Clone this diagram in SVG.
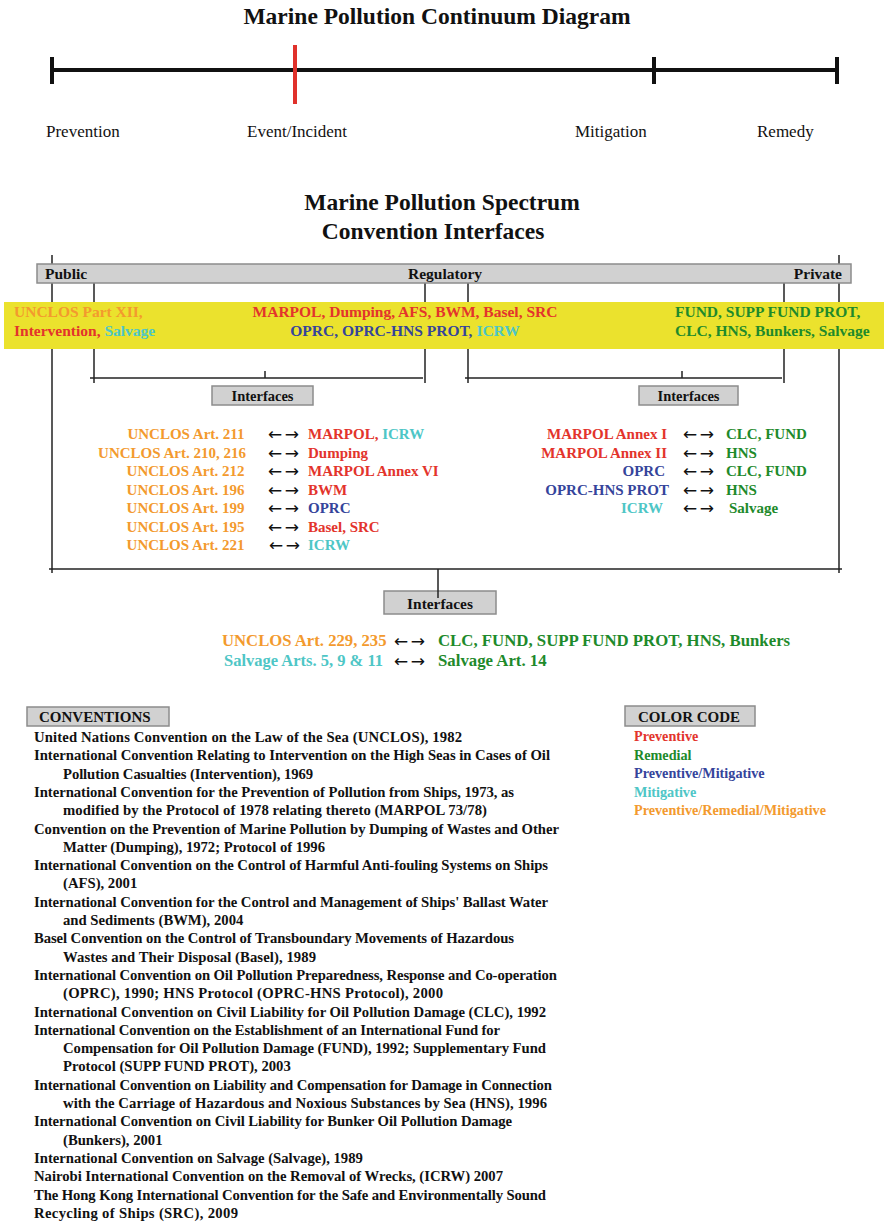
<svg xmlns="http://www.w3.org/2000/svg" width="884" height="1223" viewBox="0 0 884 1223">
<style>
text { font-family: "Liberation Serif", "Times New Roman", serif; font-weight: bold; fill: #111; }
.reg { font-weight: normal; }
.arr { font-family: "DejaVu Sans", sans-serif; font-weight: normal; font-size: 17px; word-spacing: -3px; fill: #111; }
.o { fill: #f39a2e; }
.r { fill: #e3342c; }
.g { fill: #1e8a2b; }
.b { fill: #35449b; }
.c { fill: #4ec6c6; }
.box { fill: #d1d1d1; stroke: #8c8c8c; stroke-width: 1.5; }
.ln { stroke: #222; stroke-width: 1.5; fill: none; }
.l15 { font-size: 15px; }
.lst { font-size: 14.7px; }
</style>

<g id="continuum">
  <text x="437" y="24" font-size="23.5" text-anchor="middle">Marine Pollution Continuum Diagram</text>
  <line x1="52" y1="70" x2="837" y2="70" stroke="#111" stroke-width="4"/>
  <line x1="52" y1="57" x2="52" y2="84" stroke="#111" stroke-width="4"/>
  <line x1="654" y1="57" x2="654" y2="84" stroke="#111" stroke-width="4"/>
  <line x1="837" y1="57" x2="837" y2="84" stroke="#111" stroke-width="4"/>
  <line x1="295" y1="45" x2="295" y2="104" stroke="#e0312b" stroke-width="4"/>
  <text class="reg" x="46" y="137" font-size="17">Prevention</text>
  <text class="reg" x="247" y="137" font-size="17">Event/Incident</text>
  <text class="reg" x="575" y="137" font-size="17">Mitigation</text>
  <text class="reg" x="757" y="137" font-size="17">Remedy</text>
</g>

<g id="spectrum-title">
  <text x="442" y="210" font-size="23.5" text-anchor="middle">Marine Pollution Spectrum</text>
  <text x="433" y="239" font-size="23.5" text-anchor="middle">Convention Interfaces</text>
</g>

<g id="connectors">
  <line class="ln" x1="52" y1="255" x2="52" y2="573"/>
  <line class="ln" x1="839" y1="255" x2="839" y2="573"/>
  <line class="ln" x1="49" y1="569" x2="842" y2="569"/>
  <line class="ln" x1="94" y1="283" x2="94" y2="383"/>
  <line class="ln" x1="425" y1="283" x2="425" y2="383"/>
  <line class="ln" x1="90" y1="378" x2="423" y2="378"/>
  <line class="ln" x1="265" y1="371" x2="265" y2="378"/>
  <line class="ln" x1="468" y1="283" x2="468" y2="383"/>
  <line class="ln" x1="784" y1="283" x2="784" y2="383"/>
  <line class="ln" x1="465" y1="378" x2="782" y2="378"/>
  <line class="ln" x1="682" y1="371" x2="682" y2="378"/>
</g>

<g id="spectrum-bar">
  <rect class="box" x="37" y="264" width="814" height="19"/>
  <text x="45" y="279" font-size="15.5">Public</text>
  <text x="445" y="279" font-size="15.5" text-anchor="middle">Regulatory</text>
  <text x="842" y="279" font-size="15.5" text-anchor="end">Private</text>
</g>

<g id="band">
  <rect x="4" y="302" width="880" height="47" fill="#ebe22d"/>
  <text x="14" y="317" font-size="15.5" class="o">UNCLOS Part XII,</text>
  <text x="14" y="336" font-size="15.5"><tspan class="r">Intervention,</tspan><tspan class="c"> Salvage</tspan></text>
  <text x="405" y="317" font-size="15.5" text-anchor="middle" class="r">MARPOL, Dumping, AFS, BWM, Basel, SRC</text>
  <text x="405" y="336" font-size="15.5" text-anchor="middle"><tspan class="b">OPRC, OPRC-HNS PROT,</tspan><tspan class="c"> ICRW</tspan></text>
  <text x="675" y="317" font-size="15.5" class="g">FUND, SUPP FUND PROT,</text>
  <text x="675" y="336" font-size="15.5" class="g">CLC, HNS, Bunkers, Salvage</text>
</g>

<g id="interfaces-left">
  <rect class="box" x="212" y="386" width="101" height="19"/>
  <text x="262.5" y="400.5" font-size="14.5" text-anchor="middle">Interfaces</text>
  <g class="l15">
    <text x="244.5" y="439" text-anchor="end" class="o">UNCLOS Art. 211</text>
    <text x="246" y="457.5" text-anchor="end" class="o">UNCLOS Art. 210, 216</text>
    <text x="244.5" y="476" text-anchor="end" class="o">UNCLOS Art. 212</text>
    <text x="244.5" y="494.5" text-anchor="end" class="o">UNCLOS Art. 196</text>
    <text x="244.5" y="513" text-anchor="end" class="o">UNCLOS Art. 199</text>
    <text x="244.5" y="531.5" text-anchor="end" class="o">UNCLOS Art. 195</text>
    <text x="244.5" y="550" text-anchor="end" class="o">UNCLOS Art. 221</text>
    <text x="308" y="439"><tspan class="r">MARPOL,</tspan><tspan class="c"> ICRW</tspan></text>
    <text x="308" y="457.5" class="r">Dumping</text>
    <text x="308" y="476" class="r">MARPOL Annex VI</text>
    <text x="308" y="494.5" class="r">BWM</text>
    <text x="308" y="513" class="b">OPRC</text>
    <text x="308" y="531.5" class="r">Basel, SRC</text>
    <text x="308" y="550" class="c">ICRW</text>
  </g>
  <text class="arr" x="268" y="440">← →</text>
  <text class="arr" x="268" y="458.5">← →</text>
  <text class="arr" x="268" y="477">← →</text>
  <text class="arr" x="268" y="495.5">← →</text>
  <text class="arr" x="268" y="514">← →</text>
  <text class="arr" x="268" y="532.5">← →</text>
  <text class="arr" x="269" y="551">← →</text>
</g>

<g id="interfaces-right">
  <rect class="box" x="639" y="386" width="99" height="19"/>
  <text x="688.5" y="400.5" font-size="14.5" text-anchor="middle">Interfaces</text>
  <g class="l15">
    <text x="667" y="439" text-anchor="end" class="r">MARPOL Annex I</text>
    <text x="667" y="457.5" text-anchor="end" class="r">MARPOL Annex II</text>
    <text x="665" y="476" text-anchor="end" class="b">OPRC</text>
    <text x="669" y="494.5" text-anchor="end" class="b">OPRC-HNS PROT</text>
    <text x="663" y="513" text-anchor="end" class="c">ICRW</text>
    <text x="726" y="439" class="g">CLC, FUND</text>
    <text x="726" y="457.5" class="g">HNS</text>
    <text x="726" y="476" class="g">CLC, FUND</text>
    <text x="726" y="494.5" class="g">HNS</text>
    <text x="729" y="513" class="g">Salvage</text>
  </g>
  <text class="arr" x="683" y="440">← →</text>
  <text class="arr" x="683" y="458.5">← →</text>
  <text class="arr" x="683" y="477">← →</text>
  <text class="arr" x="683" y="495.5">← →</text>
  <text class="arr" x="683" y="514">← →</text>
</g>

<g id="interfaces-bottom">
  <rect class="box" x="384" y="591" width="112" height="23"/>
  <line class="ln" x1="438" y1="569" x2="438" y2="598"/>
  <text x="440" y="609" font-size="15.4" text-anchor="middle">Interfaces</text>
  <text x="222" y="646" font-size="16.7" class="o">UNCLOS Art. 229, 235</text>
  <text x="224" y="666" font-size="16.5" class="c">Salvage Arts. 5, 9 &amp; 11</text>
  <text class="arr" x="394" y="647">← →</text>
  <text class="arr" x="394" y="667">← →</text>
  <text x="438" y="646" font-size="16.8" class="g">CLC, FUND, SUPP FUND PROT, HNS, Bunkers</text>
  <text x="438" y="666" font-size="16.8" class="g">Salvage Art. 14</text>
</g>

<g id="conventions">
  <rect class="box" x="27" y="707" width="142" height="19"/>
  <text x="39" y="722" font-size="15">CONVENTIONS</text>
  <g class="lst">
    <text x="34" y="742" textLength="428" lengthAdjust="spacing">United Nations Convention on the Law of the Sea (UNCLOS), 1982</text>
    <text x="34" y="760.3" textLength="516" lengthAdjust="spacing">International Convention Relating to Intervention on the High Seas in Cases of Oil</text>
    <text x="63" y="778.6" textLength="250" lengthAdjust="spacing">Pollution Casualties (Intervention), 1969</text>
    <text x="34" y="796.9" textLength="480" lengthAdjust="spacing">International Convention for the Prevention of Pollution from Ships, 1973, as</text>
    <text x="63" y="815.2" textLength="424" lengthAdjust="spacing">modified by the Protocol of 1978 relating thereto (MARPOL 73/78)</text>
    <text x="34" y="833.5" textLength="525" lengthAdjust="spacing">Convention on the Prevention of Marine Pollution by Dumping of Wastes and Other</text>
    <text x="63" y="851.8" textLength="262" lengthAdjust="spacing">Matter (Dumping), 1972; Protocol of 1996</text>
    <text x="34" y="870.1" textLength="514" lengthAdjust="spacing">International Convention on the Control of Harmful Anti-fouling Systems on Ships</text>
    <text x="63" y="888.4">(AFS), 2001</text>
    <text x="34" y="906.7" textLength="514" lengthAdjust="spacing">International Convention for the Control and Management of Ships' Ballast Water</text>
    <text x="63" y="925">and Sediments (BWM), 2004</text>
    <text x="34" y="943.3" textLength="480" lengthAdjust="spacing">Basel Convention on the Control of Transboundary Movements of Hazardous</text>
    <text x="63" y="961.6" textLength="253" lengthAdjust="spacing">Wastes and Their Disposal (Basel), 1989</text>
    <text x="34" y="979.9" textLength="523" lengthAdjust="spacing">International Convention on Oil Pollution Preparedness, Response and Co-operation</text>
    <text x="63" y="998.2" textLength="380" lengthAdjust="spacing">(OPRC), 1990; HNS Protocol (OPRC-HNS Protocol), 2000</text>
    <text x="34" y="1016.5" textLength="512" lengthAdjust="spacing">International Convention on Civil Liability for Oil Pollution Damage (CLC), 1992</text>
    <text x="34" y="1034.8" textLength="466" lengthAdjust="spacing">International Convention on the Establishment of an International Fund for</text>
    <text x="63" y="1053.1" textLength="483" lengthAdjust="spacing">Compensation for Oil Pollution Damage (FUND), 1992; Supplementary Fund</text>
    <text x="63" y="1071.4">Protocol (SUPP FUND PROT), 2003</text>
    <text x="34" y="1089.7" textLength="518" lengthAdjust="spacing">International Convention on Liability and Compensation for Damage in Connection</text>
    <text x="63" y="1108" textLength="484" lengthAdjust="spacing">with the Carriage of Hazardous and Noxious Substances by Sea (HNS), 1996</text>
    <text x="34" y="1126.3" textLength="478" lengthAdjust="spacing">International Convention on Civil Liability for Bunker Oil Pollution Damage</text>
    <text x="63" y="1144.6">(Bunkers), 2001</text>
    <text x="34" y="1162.9">International Convention on Salvage (Salvage), 1989</text>
    <text x="34" y="1181.2" textLength="469" lengthAdjust="spacing">Nairobi International Convention on the Removal of Wrecks, (ICRW) 2007</text>
    <text x="34" y="1199.5" textLength="512" lengthAdjust="spacing">The Hong Kong International Convention for the Safe and Environmentally Sound</text>
    <text x="34" y="1217.8" textLength="204" lengthAdjust="spacing">Recycling of Ships (SRC), 2009</text>
  </g>
</g>

<g id="color-code">
  <rect class="box" x="625" y="706" width="130" height="20"/>
  <text x="638" y="722" font-size="15">COLOR CODE</text>
  <text x="634" y="741" font-size="14.2" class="r">Preventive</text>
  <text x="634" y="759.5" font-size="14.2" class="g">Remedial</text>
  <text x="634" y="778" font-size="14.2" class="b">Preventive/Mitigative</text>
  <text x="634" y="796.5" font-size="14.2" class="c">Mitigative</text>
  <text x="634" y="815" font-size="14.2" class="o">Preventive/Remedial/Mitigative</text>
</g>
</svg>
